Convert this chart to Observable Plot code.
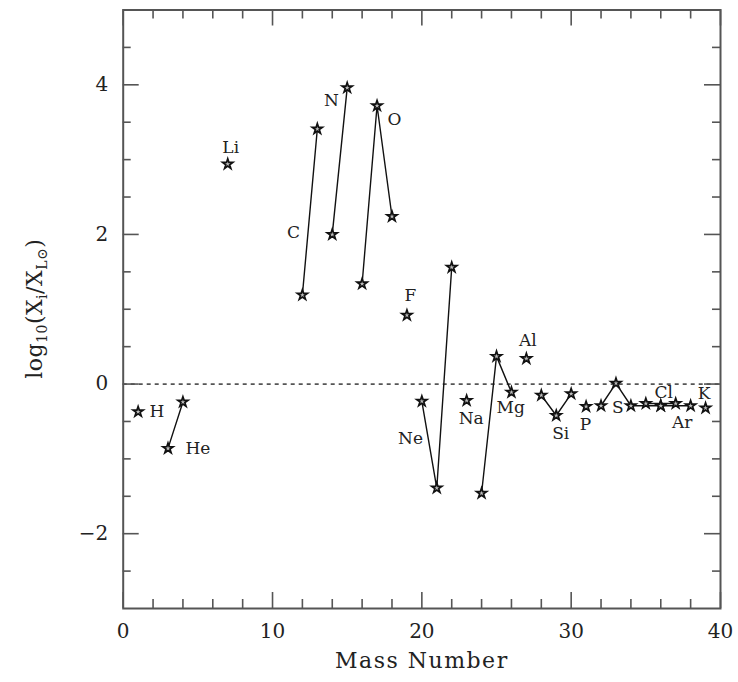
<!DOCTYPE html>
<html>
<head>
<meta charset="utf-8">
<script src="https://cdn.jsdelivr.net/npm/d3@7"></script>
<script src="https://cdn.jsdelivr.net/npm/@observablehq/plot@0.6"></script>
<style>
  html, body { margin: 0; padding: 0; background: #fff; }
  #chart svg { display: block; }
</style>
</head>
<body>
<div id="chart"></div>
<script>
// Isotope data (element, mass number, log10 ratio)
const isoElement = ["H","He","He","Li","C","C","N","N","O","O","O","F","Ne","Ne","Ne","Na","Mg","Mg","Mg","Al","Si","Si","Si","P","S","S","S","S","Cl","Cl","Ar","Ar","K"];
const isoMass    = [1, 3, 4, 7, 12, 13, 14, 15, 16, 17, 18, 19, 20, 21, 22, 23, 24, 25, 26, 27, 28, 29, 30, 31, 32, 33, 34, 36, 35, 37, 36, 38, 39];
const isoValue   = [-0.37, -0.86, -0.24, 2.94, 1.19, 3.41, 2.00, 3.96, 1.34, 3.72, 2.24, 0.92, -0.23, -1.39, 1.56, -0.22, -1.46, 0.37, -0.11, 0.34, -0.15, -0.42, -0.13, -0.30, -0.29, 0.01, -0.29, -0.29, -0.26, -0.26, -0.29, -0.29, -0.32];

// Element labels
const labelText = ["H","He","Li","C","N","O","F","Ne","Na","Mg","Al","Si","P","S","Cl","Ar","K"];
const labelX    = [2.25, 5.0, 7.2, 11.4, 13.95, 18.17, 19.24, 19.24, 23.3, 25.95, 27.1, 29.3, 30.96, 33.13, 36.2, 37.44, 38.9];
const labelY    = [-0.37, -0.86, 3.16, 2.03, 3.79, 3.53, 1.18, -0.73, -0.46, -0.31, 0.58, -0.66, -0.54, -0.32, -0.11, -0.52, -0.13];

// Axis ticks
const xMajor = [0, 10, 20, 30, 40];
const xMinor = [2, 4, 6, 8, 12, 14, 16, 18, 22, 24, 26, 28, 32, 34, 36, 38];
const yMajor = [-2, 0, 2, 4];
const yMinor = [-2.5, -1.5, -1, -0.5, 0.5, 1, 1.5, 2.5, 3, 3.5, 4.5];

const data = isoMass.map((m, i) => ({element: isoElement[i], mass: m, value: isoValue[i]}));
const labels = labelText.map((t, i) => ({text: t, x: labelX[i], y: labelY[i]}));

const W = 738, H = 682;
const mL = 122.7, mR = 18, mT = 9.5, mB = 74;
const fh = H - mT - mB, fw = W - mL - mR;
const FONT = "DejaVu Serif";
const frameColor = "#555";

const plot = Plot.plot({
  width: W, height: H,
  marginLeft: mL, marginRight: mR, marginTop: mT, marginBottom: mB,
  style: {fontFamily: FONT, background: "#fff", color: "#222"},
  x: {domain: [0, 40]},
  y: {domain: [-3, 5]},
  marks: [
    // zero reference line
    Plot.ruleY([0], {stroke: "#555", strokeWidth: 1.7, strokeDasharray: "4,4"}),
    // inward ticks on all four sides
    Plot.tickX(xMinor, {x: d => d, insetTop: fh - 9, stroke: frameColor, strokeWidth: 1.6}),
    Plot.tickX(xMinor, {x: d => d, insetBottom: fh - 9, stroke: frameColor, strokeWidth: 1.6}),
    Plot.tickX(xMajor, {x: d => d, insetTop: fh - 16, stroke: frameColor, strokeWidth: 1.6}),
    Plot.tickX(xMajor, {x: d => d, insetBottom: fh - 16, stroke: frameColor, strokeWidth: 1.6}),
    Plot.tickY(yMinor, {y: d => d, insetRight: fw - 8, stroke: frameColor, strokeWidth: 1.6}),
    Plot.tickY(yMinor, {y: d => d, insetLeft: fw - 8, stroke: frameColor, strokeWidth: 1.6}),
    Plot.tickY(yMajor, {y: d => d, insetRight: fw - 16, stroke: frameColor, strokeWidth: 1.6}),
    Plot.tickY(yMajor, {y: d => d, insetLeft: fw - 16, stroke: frameColor, strokeWidth: 1.6}),
    Plot.frame({stroke: frameColor, strokeWidth: 2}),
    Plot.axisX(xMajor, {tickSize: 0, tickPadding: 15, fontSize: 20, label: null, fill: "#222", tickFormat: d => String(d)}),
    Plot.axisY(yMajor, {tickSize: 0, tickPadding: 15, fontSize: 20, label: null, fill: "#222", tickFormat: d => d < 0 ? "\u2212" + Math.abs(d) : String(d)}),
    // isotope connecting lines
    Plot.line(data, {x: "mass", y: "value", z: "element", stroke: "#111", strokeWidth: 1.4}),
    // markers
    Plot.dot(data, {x: "mass", y: "value", symbol: "star", r: 3.2, fill: "#bbb", stroke: "#111", strokeWidth: 1.7}),
    // element labels
    Plot.text(labels, {x: "x", y: "y", text: "text", fontSize: 17, fill: "#222", fontFamily: FONT}),
    // x-axis title
    Plot.text(["Mass Number"], {frameAnchor: "bottom", dy: 59, fontSize: 22, fill: "#222", fontFamily: FONT, className: "xtitle"})
  ]
});

document.getElementById("chart").appendChild(plot);

const svg = d3.select(plot);
svg.selectAll(".xtitle text").attr("letter-spacing", "1.5px");

// y-axis title with sub-scripts
const t = svg.append("text")
  .attr("transform", `translate(42,${mT + fh / 2}) rotate(-90)`)
  .attr("text-anchor", "middle")
  .attr("font-family", FONT)
  .attr("font-size", 22)
  .attr("letter-spacing", "0.5px")
  .attr("fill", "#222");
t.append("tspan").text("log");
t.append("tspan").attr("font-size", 14).attr("dy", 5).text("10");
t.append("tspan").attr("dy", -5).text("(X");
t.append("tspan").attr("font-size", 14).attr("dy", 5).text("i");
t.append("tspan").attr("dy", -5).text("/X");
t.append("tspan").attr("font-size", 14).attr("dy", 5).text("L⊙");
t.append("tspan").attr("dy", -5).text(")");
</script>
</body>
</html>
